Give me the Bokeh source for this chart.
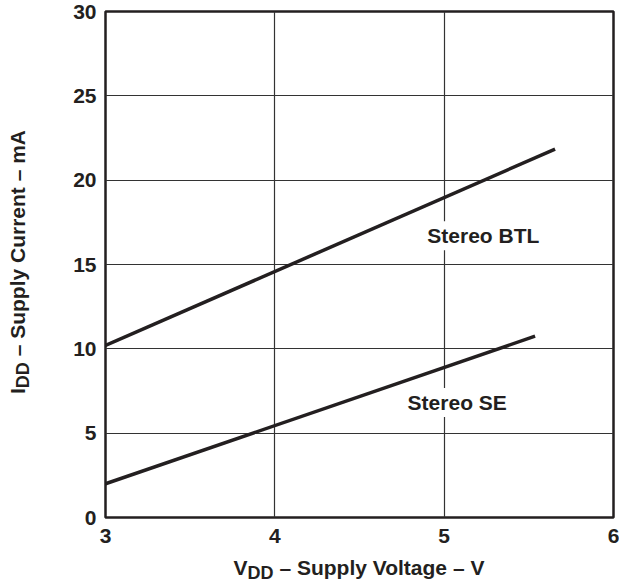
from bokeh.plotting import figure
from bokeh.models import Range1d, FixedTicker, Div
from bokeh.layouts import row, column
from bokeh.core.properties import value
from bokeh.embed import file_html
from bokeh.resources import INLINE

# ---- data ----
vdd_btl = [3.0, 5.655]
idd_btl = [10.2, 21.84]
vdd_se = [3.0, 5.537]
idd_se = [2.0, 10.75]

x_ticks = [3, 4, 5, 6]
y_ticks = [0, 5, 10, 15, 20, 25, 30]

series_labels = ["Stereo BTL", "Stereo SE"]
label_pos_x = [5.231, 5.077]
label_pos_y = [16.7, 6.82]

x_title = ("V", "DD", " – Supply Voltage – V")
y_title = ("I", "DD", " – Supply Current – mA")

FONT = "Liberation Sans"
INK = "#231f20"
FS = "21px"

YDIV_W = 40

p = figure(frame_width=508, frame_height=506,
           min_border_left=105 - YDIV_W, min_border_right=6,
           min_border_top=11, min_border_bottom=30,
           x_range=Range1d(3, 6), y_range=Range1d(0, 30),
           output_backend="svg", toolbar_location=None)

p.background_fill_color = "white"
p.border_fill_color = "white"
p.outline_line_color = INK
p.outline_line_width = 2.5

for ax in (p.xaxis[0], p.yaxis[0]):
    ax.axis_line_color = None
    ax.major_tick_line_color = None
    ax.minor_tick_line_color = None
    ax.major_label_text_font = FONT
    ax.major_label_text_font_style = "bold"
    ax.major_label_text_font_size = FS
    ax.major_label_text_color = INK

p.xaxis.ticker = FixedTicker(ticks=x_ticks)
p.yaxis.ticker = FixedTicker(ticks=y_ticks)
p.xaxis.major_label_standoff = 5
p.yaxis.major_label_standoff = 3

p.xgrid.ticker = FixedTicker(ticks=x_ticks)
p.ygrid.ticker = FixedTicker(ticks=y_ticks)
for g in (p.xgrid[0], p.ygrid[0]):
    g.grid_line_color = "#333333"
    g.grid_line_width = 1.2

p.line(vdd_btl, idd_btl, line_color=INK, line_width=3.5)
p.line(vdd_se, idd_se, line_color=INK, line_width=3.5)

p.text(x=label_pos_x, y=label_pos_y, text=series_labels,
       text_font=value(FONT), text_font_style="bold", text_font_size=FS,
       text_color=INK, text_align="center", text_baseline="middle",
       background_fill_color="white", padding=3)

# ---- axis titles with subscripts (HTML) ----
BASE = (f"font-family:{FONT},Arial,sans-serif;font-weight:bold;font-size:{FS};"
        f"color:{INK};line-height:21px;white-space:nowrap;")
SUB = "font-size:18px;position:relative;top:4px;"


def title_html(parts):
    main, sub, rest = parts
    return f'{main}<span style="{SUB}">{sub}</span>{rest}'


plot_h = 11 + 506 + 30

y_html = (f'<div style="position:relative;width:{YDIV_W}px;height:{plot_h}px;">'
          f'<div style="{BASE}position:absolute;left:18px;top:262px;'
          f'transform:translate(-50%,-50%) rotate(-90deg);">'
          f'{title_html(y_title)}</div></div>')
ydiv = Div(text=y_html, width=YDIV_W, height=plot_h, margin=0,
           styles={"overflow": "visible"})

x_html = (f'<div style="position:relative;width:619px;height:35px;">'
          f'<div style="{BASE}position:absolute;left:105px;width:508px;top:10px;'
          f'text-align:center;">{title_html(x_title)}</div></div>')
xdiv = Div(text=x_html, width=619, height=35, margin=0,
           styles={"overflow": "visible"})

layout = column(row(ydiv, p, spacing=0), xdiv, spacing=0)

open("out.html", "w").write(file_html(layout, INLINE))
